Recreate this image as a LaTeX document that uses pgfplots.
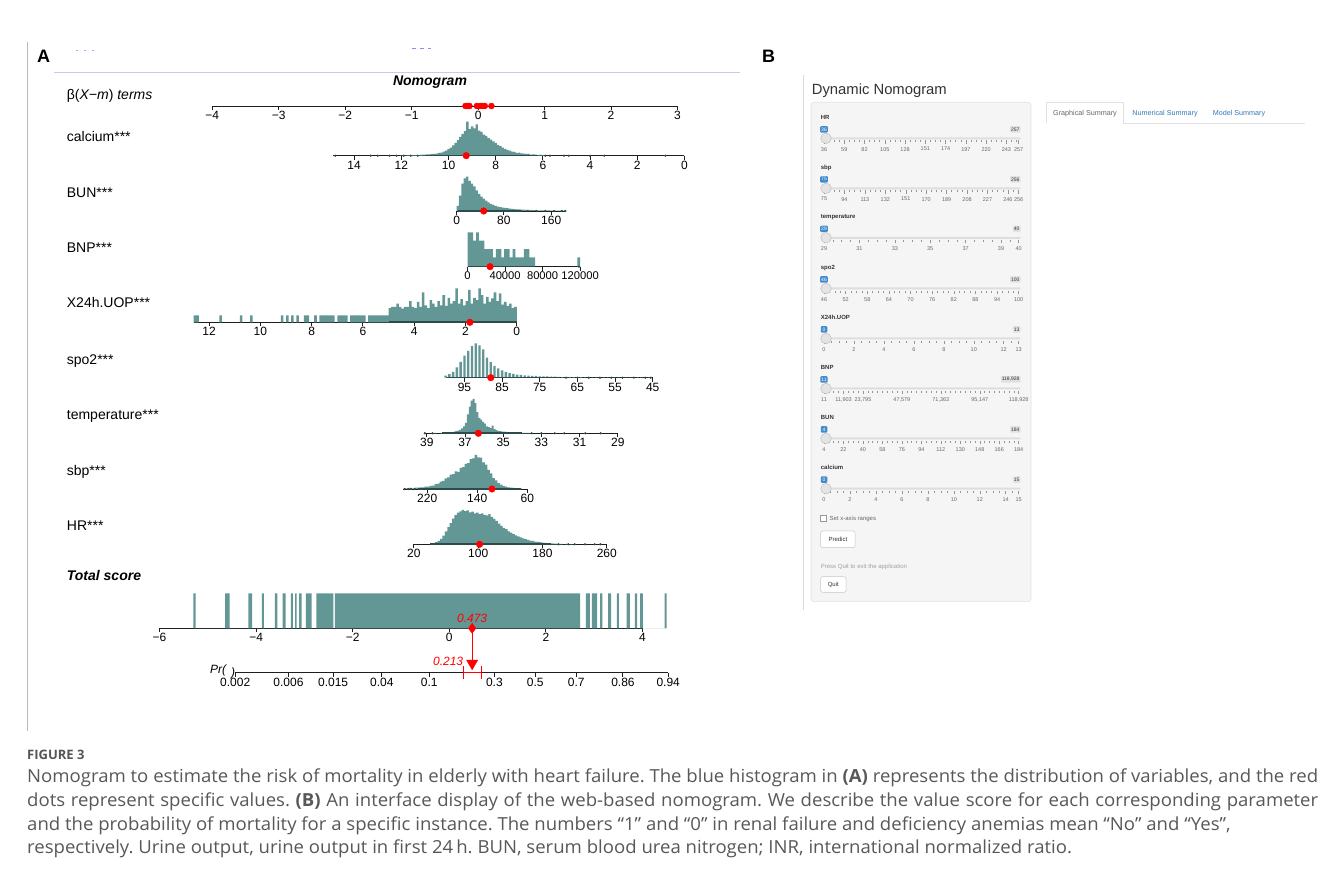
\documentclass[border=0pt]{standalone}
\usepackage{pgfplots}
\pgfplotsset{compat=1.18}
\usepackage{fontspec}
\setmainfont{Liberation Sans}
\newfontfamily\capsans{Open Sans}
\usepackage{graphicx}
\definecolor{hist}{RGB}{99,151,149}
\definecolor{rugc}{RGB}{45,75,75}
\definecolor{axc}{RGB}{30,30,30}
\definecolor{capc}{RGB}{88,88,88}
\definecolor{figc}{RGB}{85,85,85}
\definecolor{hdrline}{RGB}{200,200,240}
\definecolor{panelc}{RGB}{245,245,245}
\definecolor{panelb}{RGB}{225,225,225}
\definecolor{badgeblue}{RGB}{66,139,202}
\definecolor{badgegray}{RGB}{225,225,225}
\definecolor{tabblue}{RGB}{51,122,183}
\definecolor{trackc}{RGB}{222,222,222}
\definecolor{handlec}{RGB}{228,228,228}
\definecolor{handled}{RGB}{185,185,185}
\definecolor{labc}{RGB}{51,51,51}
\definecolor{tickg}{RGB}{150,150,150}
\definecolor{slidertxt}{RGB}{105,105,105}
\newcommand\tickfont{\fontsize{12}{12}\selectfont}
\newcommand\labfont{\fontsize{14}{14}\selectfont}
\newcommand\capfont{\capsans\fontsize{18}{18}\selectfont}
\newlength\capw
\pgfplotsset{
  nomo/.style={scale only axis, axis y line=none, axis x line*=bottom,
    x axis line style={draw=axc, line width=0.9pt},
    tick style={draw=axc, line width=0.9pt},
    xtick align=outside, major tick length=4pt, scaled x ticks=false,
    xticklabel style={font=\tickfont, inner sep=1pt},
    ymin=0, ymax=1, clip=false, enlargelimits=false},
  slider/.style={scale only axis, width=194.7pt, height=2pt, anchor=south west,
    axis y line=none, axis x line*=bottom, x axis line style={draw=none},
    tick style={draw=tickg, line width=0.5pt}, scaled x ticks=false,
    xtick align=outside, major tick length=3.5pt, minor tick length=2pt,
    xticklabel style={font=\fontsize{5.5}{5.5}\selectfont, text=slidertxt, inner sep=3pt},
    ymin=0, ymax=1, clip=false, enlargelimits=false},
}
\newcommand\slider[9]{%
  \pgfmathsetmacro\ly{885-#1}%
  \pgfmathsetmacro\by{885-#1-12.6}%
  \pgfmathsetmacro\ty{885-#1-21.6}%
  \pgfmathsetmacro\ay{885-#1-23.8}%
  \node[anchor=mid west, inner sep=0pt, font=\fontsize{6}{6}\selectfont\bfseries, text=labc] at (820.7,\ly) {#2};
  \fill[trackc, rounded corners=0.8pt] (821.7,\ty-1) rectangle (1020.7,\ty+1);
  \node[fill=badgeblue, text=white, rounded corners=1pt, inner sep=1pt, minimum height=6.5pt, minimum width=6.5pt, font=\fontsize{5}{5}\selectfont] at (824,\by) {#7};
  \node[fill=badgegray, text=labc, rounded corners=1pt, inner sep=1pt, minimum height=6.5pt, font=\fontsize{5}{5}\selectfont, anchor=east] at (1020.7,\by) {#8};
  \begin{axis}[slider, at={(824pt,\ay pt)}, xmin=#3, xmax=#4, xtick={#5}, xticklabels={#6}, minor xtick={#9}]
    \addplot[draw=none] coordinates {(#3,0) (#4,0)};
  \end{axis}
  \filldraw[fill=handlec, draw=handled, line width=0.4pt] (826,\ty) circle (5.3);
}
\begin{document}
\frenchspacing
\settowidth\capw{\capfont Nomogram to estimate the risk of mortality in elderly with heart failure. The blue histogram in \textbf{(A)} represents the distribution of variables, and the red}%
\pgfmathsetmacro\capf{1291/\capw}%
\begin{tikzpicture}[x=1pt,y=1pt]
\useasboundingbox (0,0) rectangle (1328,885);
\fill[white] (0,0) rectangle (1328,885);

% ---------------- Panel A frame ----------------
\draw[gray!55, line width=0.7pt] (27.3,843) -- (27.3,154);
\draw[hdrline, line width=0.9pt] (54.4,813) -- (740,813);
\draw[blue!35, line width=0.8pt] (76,835) -- (78,835) (84,835) -- (86,835) (92,835) -- (94,835);
\draw[blue!45, line width=1pt] (412,836) -- (416,836) (420,836) -- (424,836) (428,836) -- (431,836);
\node[font=\fontsize{18}{18}\selectfont\bfseries] at (43.6,828.3) {A};
\node[font=\fontsize{18}{18}\selectfont\bfseries] at (768.5,829) {B};
\node[font=\fontsize{14}{14}\selectfont\bfseries\itshape] at (430,803.3) {Nomogram};

% row labels
\node[anchor=mid west, inner sep=0pt, font=\labfont] at (66.7,788.3) {β(\textit{X−m}) \textit{terms}};
\node[anchor=mid west, inner sep=0pt, font=\labfont] at (66.7,745.7) {calcium***};
\node[anchor=mid west, inner sep=0pt, font=\labfont] at (66.7,690.5) {BUN***};
\node[anchor=mid west, inner sep=0pt, font=\labfont] at (66.7,635.0) {BNP***};
\node[anchor=mid west, inner sep=0pt, font=\labfont] at (66.7,580.0) {X24h.UOP***};
\node[anchor=mid west, inner sep=0pt, font=\labfont] at (66.7,523.3) {spo2***};
\node[anchor=mid west, inner sep=0pt, font=\labfont] at (66.7,468.0) {temperature***};
\node[anchor=mid west, inner sep=0pt, font=\labfont] at (66.7,412.3) {sbp***};
\node[anchor=mid west, inner sep=0pt, font=\labfont] at (66.7,357.0) {HR***};
\node[anchor=mid west, inner sep=0pt, font=\labfont\bfseries\itshape] at (66.7,307.0) {Total score};

% beta axis
\begin{axis}[nomo, at={(212.3pt,779pt)}, anchor=south west, width=465.2pt, height=10pt,
  xmin=-4, xmax=3, xtick={-4,-3,-2,-1,0,1,2,3}, xticklabels={−4,−3,−2,−1,0,1,2,3}]
  \addplot[only marks, mark=*, mark size=3pt, red] coordinates {(-0.19,0)(-0.16,0)(-0.13,0)(-0.02,0)(0.03,0)(0.07,0)(0.10,0)(0.20,0)};
\end{axis}

% calcium
\begin{axis}[nomo, at={(333.4pt,729.3pt)}, anchor=south west, width=351pt, height=34pt, x dir=reverse,
  xmin=0, xmax=14.88, xtick={0,2,4,6,8,10,12,14}, xticklabels={0,2,4,6,8,10,12,14}]
  \addplot[ybar, bar width=0.1, fill=hist, draw=none] coordinates {(6.0,.02)(6.1,.03)(6.2,.02)(6.3,.03)(6.4,.04)(6.5,.03)(6.6,.05)(6.7,.05)(6.8,.06)(6.9,.07)(7.0,.09)(7.1,.08)(7.2,.11)(7.3,.12)(7.4,.15)(7.5,.17)(7.6,.20)(7.7,.24)(7.8,.28)(7.9,.32)(8.0,.38)(8.1,.42)(8.2,.47)(8.3,.52)(8.4,.58)(8.5,.62)(8.6,.70)(8.7,.74)(8.8,.92)(8.9,.80)(9.0,.86)(9.1,.78)(9.2,1.00)(9.3,.72)(9.4,.64)(9.5,.55)(9.6,.46)(9.7,.38)(9.8,.30)(9.9,.24)(10.0,.19)(10.1,.15)(10.2,.12)(10.3,.09)(10.4,.08)(10.5,.06)(10.6,.05)(10.7,.05)(10.8,.04)(10.9,.04)(11.0,.03)(11.1,.03)(11.2,.025)(11.3,.02)(11.4,.02)(11.5,.02)(11.6,.015)(11.7,.015)(11.8,.01)(11.9,.01)(12.0,.01)};
  \addplot[rugc, line width=1.6pt] coordinates {(6.2,0)(11.0,0)};
  \addplot[only marks, mark=*, mark size=0.9pt, rugc] coordinates {(14.8,0)(13.3,0)(13.0,0)(12.5,0)(12.2,0)(11.9,0)(11.6,0)(11.3,0)(5.9,0)(5.7,0)(5.1,0)(4.9,0)(4.0,0)(3.4,0)(0.8,0)};
  \addplot[only marks, mark=*, mark size=3.3pt, red] coordinates {(9.25,0)};
\end{axis}

% BUN
\begin{axis}[nomo, at={(456.6pt,674pt)}, anchor=south west, width=108.8pt, height=34.3pt,
  xmin=0, xmax=184, xtick={0,80,160}, xticklabels={0,80,160}]
  \addplot[ybar, bar width=4, fill=hist, draw=none] coordinates {(2,.15)(6,.45)(10,.80)(14,.95)(18,1.0)(22,.88)(26,.80)(30,.72)(34,.60)(38,.50)(42,.42)(46,.36)(50,.30)(54,.25)(58,.21)(62,.18)(66,.15)(70,.13)(74,.11)(78,.10)(82,.09)(86,.08)(90,.07)(94,.06)(98,.055)(102,.05)(106,.045)(110,.04)(114,.04)(118,.035)(122,.03)(126,.03)(130,.025)(134,.025)(138,.02)(142,.02)(146,.02)(150,.015)(154,.015)(158,.015)(162,.01)(166,.01)(170,.01)(174,.01)(178,.008)(182,.008)};
  \addplot[rugc, line width=1.6pt] coordinates {(2,0)(110,0)};
  \addplot[only marks, mark=*, mark size=0.9pt, rugc] coordinates {(120,0)(135,0)(150,0)(165,0)(178,0)(184,0)};
  \addplot[only marks, mark=*, mark size=3.3pt, red] coordinates {(45.8,0)};
\end{axis}

% BNP
\begin{axis}[nomo, at={(467.6pt,618.3pt)}, anchor=south west, width=112.5pt, height=34.4pt,
  xmin=0, xmax=120000, xtick={0,40000,80000,120000}, xticklabels={0,40000,80000,120000},
  xticklabel style={font=\fontsize{11.2}{11.2}\selectfont}]
  \addplot[ybar, bar width=2900, fill=hist, draw=none] coordinates {(1500,1.0)(4500,1.0)(7500,0.76)(10500,1.0)(13500,0.76)(16500,0.76)(19500,0.51)(22500,0.51)(25500,0.51)(28500,0.27)(31500,0.51)(34500,0.51)(37500,0.27)(40500,0.51)(43500,0.51)(46500,0.27)(49500,0.51)(52500,0.27)(55500,0.27)(58500,0.27)(61500,0.51)(64500,0.51)(67500,0.27)(70500,0.27)(118500,0.27)};
  \addplot[rugc, line width=1.6pt] coordinates {(0,0)(72000,0)};
  \addplot[only marks, mark=*, mark size=0.9pt, rugc] coordinates {(118928,0)};
  \addplot[only marks, mark=*, mark size=3.3pt, red] coordinates {(24000,0)};
\end{axis}

% X24h.UOP
\begin{axis}[nomo, at={(193.7pt,562.7pt)}, anchor=south west, width=323.1pt, height=34pt, x dir=reverse,
  xmin=0, xmax=12.6, xtick={0,2,4,6,8,10,12}, xticklabels={0,2,4,6,8,10,12}]
  \addplot[ybar, bar width=0.1, fill=hist, draw=none] coordinates {(0.05,.45)(0.15,.42)(0.25,.55)(0.35,.48)(0.45,.60)(0.55,.52)(0.65,.85)(0.75,.62)(0.85,.88)(0.95,.70)(1.05,.60)(1.15,.75)(1.25,.55)(1.35,.80)(1.45,1.0)(1.55,.65)(1.65,.72)(1.75,.55)(1.85,.95)(1.95,.62)(2.05,.50)(2.15,.68)(2.25,.55)(2.35,1.0)(2.45,.62)(2.55,.55)(2.65,.72)(2.75,.48)(2.85,.80)(2.95,.50)(3.05,.62)(3.15,.45)(3.25,.55)(3.35,.65)(3.45,.42)(3.55,.50)(3.65,.88)(3.75,.45)(3.85,.60)(3.95,.42)(4.05,.45)(4.15,.62)(4.25,.45)(4.35,.45)(4.45,.40)(4.55,.45)(4.65,.55)(4.75,.45)(4.85,.45)(4.95,.42)(5.05,.20)(5.15,.20)(5.25,.20)(5.35,.20)(5.45,.20)(5.55,.20)(5.65,.20)(5.75,.20)(5.95,.20)(6.05,.20)(6.15,.20)(6.25,.20)(6.35,.20)(6.45,.20)(6.65,.20)(6.75,.20)(6.85,.20)(6.95,.20)(7.15,.20)(7.25,.20)(7.35,.20)(7.45,.20)(7.55,.20)(7.65,.20)(7.85,.20)(8.15,.20)(8.25,.20)(8.55,.20)(8.75,.20)(8.95,.20)(9.15,.20)(10.35,.20)(10.75,.20)(11.55,.20)(12.45,.20)(12.55,.20)};
  \addplot[rugc, line width=1.6pt] coordinates {(0,0)(5.0,0)};
  \addplot[only marks, mark=*, mark size=3.3pt, red] coordinates {(1.83,0)};
\end{axis}

% spo2
\begin{axis}[nomo, at={(445.6pt,507.3pt)}, anchor=south west, width=207.1pt, height=34.4pt, x dir=reverse,
  xmin=45, xmax=100, xtick={45,55,65,75,85,95}, xticklabels={45,55,65,75,85,95}]
  \addplot[ybar, bar width=0.62, fill=hist, draw=none] coordinates {(100,.06)(99,.10)(98,.17)(97,.30)(96,.46)(95,.64)(94,.78)(93,.92)(92,1.0)(91,.94)(90,.82)(89,.58)(88,.45)(87,.34)(86,.27)(85,.21)(84,.17)(83,.13)(82,.11)(81,.09)(80,.08)(79,.07)(78,.06)(77,.05)(76,.05)(75,.04)(74,.04)(73,.035)(72,.03)(71,.03)(70,.025)(69,.02)(68,.02)(67,.02)(66,.015)(65,.015)(64,.015)(63,.012)(62,.012)(61,.01)(60,.01)(59,.01)(58,.01)(57,.01)(56,.01)(55,.01)(54,.01)(53,.01)(52,.01)(51,.01)(50,.01)(49,.01)(48,.01)(47,.01)(46,.01)};
  \addplot[rugc, line width=1.6pt] coordinates {(99.5,0)(70,0)};
  \addplot[only marks, mark=*, mark size=0.9pt, rugc] coordinates {(68,0)(65,0)(62,0)(59,0)(56,0)(53,0)(50,0)(47,0)(45.5,0)};
  \addplot[only marks, mark=*, mark size=3.3pt, red] coordinates {(88.0,0)};
\end{axis}

% temperature
\begin{axis}[nomo, at={(423.9pt,451.7pt)}, anchor=south west, width=193.9pt, height=34.3pt, x dir=reverse,
  xmin=29, xmax=39.15, xtick={29,31,33,35,37,39}, xticklabels={29,31,33,35,37,39}]
  \addplot[ybar, bar width=0.1, fill=hist, draw=none] coordinates {(38.55,.01)(38.25,.01)(38.05,.015)(37.95,.02)(37.85,.02)(37.75,.03)(37.65,.03)(37.55,.05)(37.45,.06)(37.35,.08)(37.25,.10)(37.15,.14)(37.05,.20)(36.95,.30)(36.85,.55)(36.75,.78)(36.65,.95)(36.55,1.0)(36.45,.88)(36.35,.62)(36.25,.45)(36.15,.40)(36.05,.33)(35.95,.28)(35.85,.20)(35.75,.18)(35.65,.15)(35.55,.22)(35.45,.12)(35.35,.09)(35.25,.07)(35.15,.06)(35.05,.05)(34.95,.05)(34.85,.04)(34.75,.03)(34.65,.03)(34.55,.025)(34.45,.02)(34.35,.02)(34.25,.02)(34.15,.015)(34.05,.015)(33.95,.01)(33.85,.01)(33.75,.01)(33.65,.01)};
  \addplot[rugc, line width=1.6pt] coordinates {(38.2,0)(34.0,0)};
  \addplot[only marks, mark=*, mark size=0.9pt, rugc] coordinates {(39.1,0)(38.7,0)(33.5,0)(33.0,0)(32.3,0)(31.8,0)(30.7,0)(29.9,0)};
  \addplot[only marks, mark=*, mark size=3.3pt, red] coordinates {(36.3,0)};
\end{axis}

% sbp
\begin{axis}[nomo, at={(403.4pt,396pt)}, anchor=south west, width=123.9pt, height=34pt, x dir=reverse,
  xmin=60, xmax=258, xtick={60,140,220}, xticklabels={60,140,220}]
  \addplot[ybar, bar width=4, fill=hist, draw=none] coordinates {(254,.02)(250,.02)(246,.03)(242,.02)(238,.04)(234,.04)(230,.05)(226,.05)(222,.07)(218,.07)(214,.09)(210,.10)(206,.14)(202,.16)(198,.22)(194,.24)(190,.31)(186,.34)(182,.42)(178,.44)(174,.52)(170,.50)(166,.62)(162,.64)(158,.74)(154,.76)(150,.88)(146,.90)(142,1.0)(138,.93)(134,.92)(130,.78)(126,.72)(122,.56)(118,.46)(114,.32)(110,.25)(106,.17)(102,.13)(98,.09)(94,.07)(90,.05)(86,.04)(82,.03)(78,.02)(74,.015)(70,.01)};
  \addplot[rugc, line width=1.6pt] coordinates {(70,0)(235,0)};
  \addplot[only marks, mark=*, mark size=0.9pt, rugc] coordinates {(240,0)(246,0)(250,0)(256,0)};
  \addplot[only marks, mark=*, mark size=3.3pt, red] coordinates {(116.5,0)};
\end{axis}

% HR
\begin{axis}[nomo, at={(413.9pt,340.7pt)}, anchor=south west, width=192.9pt, height=34.3pt,
  xmin=20, xmax=260, xtick={20,100,180,260}, xticklabels={20,100,180,260}]
  \addplot[ybar, bar width=3, fill=hist, draw=none] coordinates {(42,.02)(45,.03)(48,.06)(51,.10)(54,.16)(57,.25)(60,.38)(63,.50)(66,.62)(69,.75)(72,.85)(75,.92)(78,.96)(81,1.0)(84,.97)(87,.99)(90,.93)(93,.95)(96,.90)(99,.92)(102,.88)(105,.90)(108,.86)(111,.84)(114,.88)(117,.80)(120,.74)(123,.68)(126,.60)(129,.54)(132,.48)(135,.44)(138,.38)(141,.34)(144,.30)(147,.26)(150,.23)(153,.20)(156,.17)(159,.15)(162,.13)(165,.11)(168,.10)(171,.08)(174,.07)(177,.06)(180,.05)(183,.04)(186,.035)(189,.03)(192,.025)(195,.02)(198,.02)(201,.015)(204,.01)(210,.01)(216,.008)};
  \addplot[rugc, line width=1.6pt] coordinates {(40,0)(190,0)};
  \addplot[only marks, mark=*, mark size=0.9pt, rugc] coordinates {(200,0)(212,0)(220,0)(233,0)(245,0)(252,0)};
  \addplot[only marks, mark=*, mark size=3.3pt, red] coordinates {(101.7,0)};
\end{axis}

% Total score
\begin{axis}[nomo, at={(159.5pt,256.7pt)}, anchor=south west, width=483pt, height=35pt,
  xmin=-6, xmax=4, xtick={-6,-4,-2,0,2,4}, xticklabels={−6,−4,−2,0,2,4}]
  \addplot[fill=hist, draw=none, const plot mark left] coordinates {(-5.30,1)(-5.25,0)(-4.64,1)(-4.55,0)(-4.16,1)(-4.08,0)(-3.88,1)(-3.84,0)(-3.61,1)(-3.56,0)(-3.45,1)(-3.39,0)(-3.28,1)(-3.24,0)(-3.19,1)(-3.16,0)(-3.11,1)(-3.06,0)(-2.97,1)(-2.85,0)(-2.75,1)(-2.40,0)(-2.37,1)(2.71,0)(2.83,1)(2.91,0)(2.95,1)(3.06,0)(3.12,1)(3.17,0)(3.29,1)(3.35,0)(3.47,1)(3.51,0)(3.67,1)(3.74,0)(3.84,1)(3.89,0)(3.95,1)(4.01,0)(4.46,1)(4.50,0)} \closedcycle;
  \addplot[red, line width=1pt] coordinates {(0.473,0)(0.473,-0.9)};
  \addplot[only marks, mark=triangle*, mark size=6.5pt, red, mark options={rotate=180}] coordinates {(0.473,-1.0)};
  \addplot[only marks, mark=diamond*, mark size=5pt, red] coordinates {(0.473,0)};
  \node[red, font=\tickfont\itshape, inner sep=0pt] at (axis cs:0.473,0) [yshift=10pt] {0.473};
\end{axis}

% Pr axis
\begin{axis}[nomo, at={(235.2pt,212.3pt)}, anchor=south west, width=433pt, height=10pt,
  xmin=-4.433, xmax=4.532,
  xtick={-4.433,-3.330,-2.405,-1.398,-0.417,0.933,1.780,2.627,3.595,4.532},
  xticklabels={0.002,0.006,0.015,0.04,0.1,0.3,0.5,0.7,0.86,0.94}]
  \addplot[red, line width=1.1pt, mark=|, mark size=6.7pt] coordinates {(0.30,0)(0.67,0)};
  \node[red, font=\tickfont\itshape, anchor=east, inner sep=0pt] at (axis cs:0.29,0) [yshift=11pt] {0.213};
  \node[font=\tickfont\itshape, anchor=east, inner sep=0pt] at (axis cs:-4.433,0) [yshift=1pt] {Pr(\hspace{5pt}\raisebox{-3pt}{)}};
\end{axis}

% ---------------- Panel B ----------------
\draw[gray!30, line width=0.8pt] (803,810) -- (803,275);
\node[anchor=base west, inner sep=0pt, font=\fontsize{14.8}{14.8}\selectfont, text=labc] at (811.7,790) {Dynamic Nomogram};
\filldraw[fill=panelc, draw=panelb, line width=0.6pt, rounded corners=3pt] (811,283.3) rectangle (1031,782.7);
% tabs
\draw[panelb, line width=0.6pt] (1123.3,761.7) -- (1305,761.7);
\draw[panelb, line width=0.6pt, fill=white] (1046.7,761.7) -- (1046.7,782.3) -- (1123.3,782.3) -- (1123.3,761.7);
\node[font=\fontsize{7.2}{7.2}\selectfont, text=gray!80!black] at (1085,771.7) {Graphical Summary};
\node[font=\fontsize{7.2}{7.2}\selectfont, text=tabblue] at (1165,771.7) {Numerical Summary};
\node[font=\fontsize{7.2}{7.2}\selectfont, text=tabblue] at (1239,771.7) {Model Summary};

\slider{116.7}{HR}{36}{257}{36,59,82,105,128,151,174,197,220,243,257}{36,59,82,105,128,151,174,197,220,243,257}{36}{257}{36,41.75,...,257}
\slider{166.7}{sbp}{75}{256}{75,94,113,132,151,170,189,208,227,246,256}{75,94,113,132,151,170,189,208,227,246,256}{75}{256}{75,79.75,...,256}
\slider{216.2}{temperature}{29}{40}{29,31,33,35,37,39,40}{29,31,33,35,37,39,40}{29}{40}{29,29.5,...,40}
\slider{266.9}{spo2}{46}{100}{46,52,58,64,70,76,82,88,94,100}{46,52,58,64,70,76,82,88,94,100}{46}{100}{46,47.5,...,100}
\slider{316.9}{X24h.UOP}{0}{13}{0,2,4,6,8,10,12,13}{0,2,4,6,8,10,12,13}{0}{13}{0,0.5,...,13}
\slider{366.9}{BNP}{11}{118928}{11,11903,23795,47579,71363,95147,118928}{11,{11,903},{23,795},{47,579},{71,363},{95,147},{118,928}}{11}{118,928}{11,2984,...,118928}
\slider{416.9}{BUN}{4}{184}{4,22,40,58,76,94,112,130,148,166,184}{4,22,40,58,76,94,112,130,148,166,184}{4}{184}{4,8.5,...,184}
\slider{467.1}{calcium}{0}{15}{0,2,4,6,8,10,12,14,15}{0,2,4,6,8,10,12,14,15}{0}{15}{0,0.5,...,15}

\draw[gray!80, line width=0.5pt, fill=white] (820.7,364) rectangle (826,369.3);
\node[anchor=mid west, inner sep=0pt, font=\fontsize{6}{6}\selectfont, text=gray!80!black] at (829.5,366.7) {Set x-axis ranges};
\filldraw[fill=white, draw=gray!45, line width=0.5pt, rounded corners=2pt] (820.7,337.3) rectangle (855,354);
\node[font=\fontsize{6}{6}\selectfont, text=labc] at (837.9,345.7) {Predict};
\node[anchor=mid west, inner sep=0pt, font=\fontsize{6}{6}\selectfont, text=gray!75] at (820.7,319.3) {Press Quit to exit the application};
\filldraw[fill=white, draw=gray!45, line width=0.5pt, rounded corners=2pt] (820.7,292.7) rectangle (846,308.3);
\node[font=\fontsize{6}{6}\selectfont, text=labc] at (833.3,300.5) {Quit};

% ---------------- Caption ----------------
\node[anchor=mid west, inner sep=0pt, text=figc, font=\capsans\fontsize{13}{13}\selectfont\bfseries] at (27,128) {FIGURE 3};
\node[anchor=mid west, inner sep=0pt, text=capc] at (27,105) {\scalebox{\capf}[1]{\capfont Nomogram to estimate the risk of mortality in elderly with heart failure. The blue histogram in \textbf{(A)} represents the distribution of variables, and the red}};
\node[anchor=mid west, inner sep=0pt, text=capc] at (27,81) {\scalebox{\capf}[1]{\makebox[\capw][s]{\capfont dots represent specific values. \textbf{(B)} An interface display of the web-based nomogram. We describe the value score for each corresponding parameter}}};
\node[anchor=mid west, inner sep=0pt, text=capc] at (27,57.5) {\scalebox{\capf}[1]{\capfont and the probability of mortality for a specific instance. The numbers “1” and “0” in renal failure and deficiency anemias mean “No” and “Yes”,}};
\node[anchor=mid west, inner sep=0pt, text=capc] at (27,34) {\scalebox{\capf}[1]{\capfont respectively. Urine output, urine output in first 24\,h. BUN, serum blood urea nitrogen; INR, international normalized ratio.}};
\end{tikzpicture}
\end{document}
